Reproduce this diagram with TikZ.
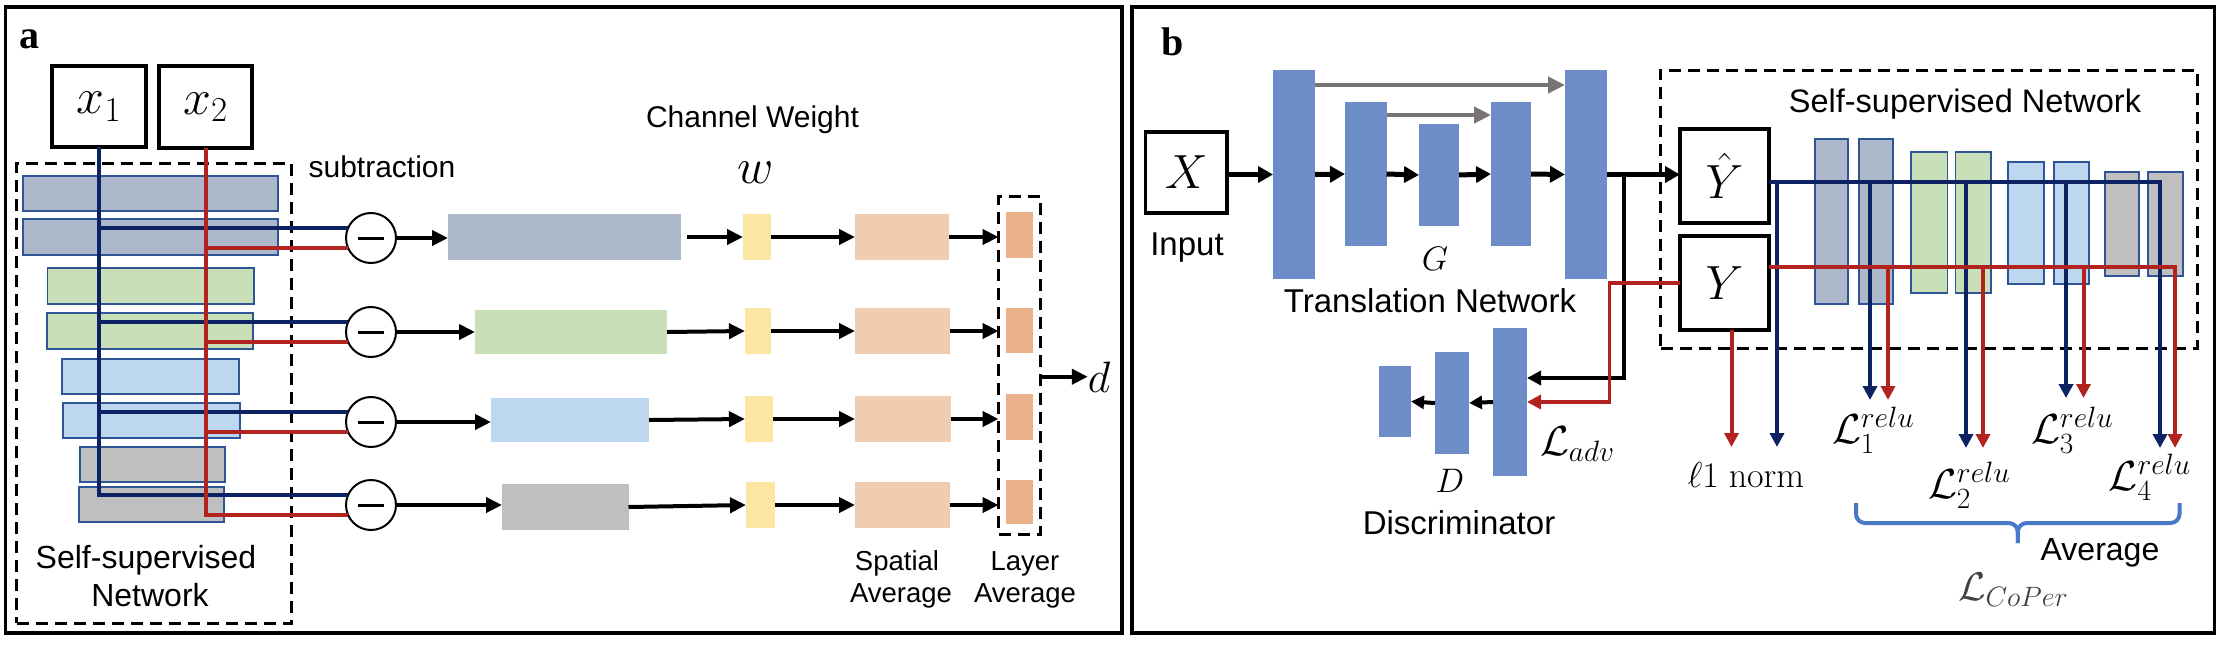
\RequirePackage{fix-cm}
\documentclass[tikz,border=0pt]{standalone}
\usepackage[no-math]{fontspec}
\setmainfont{Liberation Sans}
\newfontfamily\lblfont{Liberation Serif}
\usetikzlibrary{arrows.meta,calc}
\definecolor{cGB}{HTML}{ADB9CA}
\definecolor{cGr}{HTML}{C9DFB8}
\definecolor{cLB}{HTML}{BDD7EE}
\definecolor{cGy}{HTML}{BFBFBF}
\definecolor{cEdge}{HTML}{2F5597}
\definecolor{cYel}{HTML}{FBE6A2}
\definecolor{cPch}{HTML}{F0CCB0}
\definecolor{cOrg}{HTML}{EBB18B}
\definecolor{cUn}{HTML}{6C8DC8}
\definecolor{cNavy}{HTML}{0C2263}
\definecolor{cRed}{HTML}{B2221E}
\definecolor{cGArr}{HTML}{787474}
\definecolor{cBrace}{HTML}{4A78C8}
\newcommand\fs[1]{\fontsize{#1}{#1}\selectfont}
\newcommand\bx[7]{\node[#2, inner sep=0pt, outer sep=0pt, minimum width={#5-#3}, minimum height={#6-#4}] (#1) at ({(#3+#5)/2},{(#4+#6)/2}) {#7};}
\begin{document}
\begin{tikzpicture}[x=1pt,y=-1pt,
  frm/.style={draw, line width=3.5pt},
  dsh/.style={draw, line width=3pt, dash pattern=on 12pt off 7pt},
  lyr/.style={draw=cEdge, line width=1.8pt},
  flat/.style={draw=none},
  ibox/.style={draw, line width=3.5pt},
  subc/.style={circle, draw, fill=white, line width=2pt, minimum size=50pt, inner sep=0pt, outer sep=0pt,
    path picture={\draw[line width=3pt] ([xshift=-13pt]path picture bounding box.center) -- ([xshift=13pt]path picture bounding box.center);}},
  arr/.style={line width=4pt, -{Triangle[length=16pt,width=15pt]}},
  uarr/.style={line width=5pt, -{Triangle[length=15pt,width=16pt]}},
  garr/.style={cGArr, line width=4.5pt, -{Triangle[length=17pt,width=16pt]}},
  darr/.style={line width=4pt, -{Triangle[length=13pt,width=13pt]}},
  brl/.style={line width=3.5pt, -{Triangle[length=14pt,width=14pt]}},
  bl/.style={cNavy, line width=4pt},
  rd/.style={cRed, line width=4pt},
  blA/.style={bl, -{Triangle[length=14pt,width=14pt]}},
  rdA/.style={rd, -{Triangle[length=14pt,width=14pt]}},
  rdl/.style={cRed, line width=3.5pt, -{Triangle[length=14pt,width=14pt]}},
  brc/.style={cBrace, line width=4pt},
  tx/.style={inner sep=0pt, outer sep=0pt, anchor=base, font=\fs{32}},
  mth/.style={inner sep=0pt, outer sep=0pt, anchor=base},
  ub/.style={fill=cUn, draw=none},
]
\useasboundingbox (0,0) rectangle (2222,646);

% ================= Panel a =================
\draw[frm] (5.7,7) rectangle (1122,633);
\node[anchor=base west, inner sep=0pt, font=\lblfont\bfseries\fs{40}] (la) at (19,48) {a};

\bx{xa}{ibox}{52}{66}{146}{147}{\fs{50}$x_1$}
\bx{xb}{ibox}{159}{66}{252}{148}{\fs{50}$x_2$}

\bx{la1}{lyr,fill=cGB}{22.7}{175.7}{278}{210.7}{}
\bx{la2}{lyr,fill=cGB}{22.7}{219}{278}{255}{}
\bx{la3}{lyr,fill=cGr}{47.5}{268}{254}{304}{}
\bx{la4}{lyr,fill=cGr}{47}{313}{253}{349}{}
\bx{la5}{lyr,fill=cLB}{62}{359}{239}{394}{}
\bx{la6}{lyr,fill=cLB}{63}{403}{240}{438}{}
\bx{la7}{lyr,fill=cGy}{80}{447}{225}{482}{}
\bx{la8}{lyr,fill=cGy}{79}{487}{224}{522}{}
\bx{ssa}{dsh}{16.5}{163}{291}{623}{}
\node[tx] (ssa1) at (146,568) {Self-supervised};
\node[tx] (ssa2) at (150,606) {Network};

\node[subc] (c1) at (371,238) {};
\node[subc] (c2) at (371,332) {};
\node[subc] (c3) at (371,422) {};
\node[subc] (c4) at (371,505) {};

\draw[bl] (xa.south) -- (xa.south |- c4.156) -- (c4.156);
\foreach \i in {1,2,3} \draw[bl] (xa.south |- c\i.156) -- (c\i.156);
\draw[rd] (xb.south) -- (xb.south |- c4.204) -- (c4.204);
\foreach \i in {1,2,3} \draw[rd] (xb.south |- c\i.204) -- (c\i.204);

\node[tx, font=\fs{30}] (subt) at (382,177) {subtraction};
\node[tx, font=\fs{30}] (cw) at (752.5,127) {Channel Weight};
\node[mth, font=\fs{50}] (ww) at (756,183) {$w$};

\bx{ba1}{flat,fill=cGB}{448}{214}{681}{260}{}
\bx{ba2}{flat,fill=cGr}{475}{310}{667}{354}{}
\bx{ba3}{flat,fill=cLB}{491}{398}{649}{442}{}
\bx{ba4}{flat,fill=cGy}{502}{484}{628.5}{530}{}
\bx{ya1}{flat,fill=cYel}{743}{214}{771}{260}{}
\bx{ya2}{flat,fill=cYel}{745}{308}{771}{354}{}
\bx{ya3}{flat,fill=cYel}{745}{396}{773}{442}{}
\bx{ya4}{flat,fill=cYel}{746}{482}{775}{528}{}
\bx{pa1}{flat,fill=cPch}{855}{214}{949}{260}{}
\bx{pa2}{flat,fill=cPch}{855}{308}{950}{354}{}
\bx{pa3}{flat,fill=cPch}{855}{396}{951}{442}{}
\bx{pa4}{flat,fill=cPch}{855}{482}{950}{528}{}
\bx{oa1}{flat,fill=cOrg}{1005.6}{212}{1033}{258}{}
\bx{oa2}{flat,fill=cOrg}{1005.6}{308}{1033}{353}{}
\bx{oa3}{flat,fill=cOrg}{1005.6}{394}{1033}{440}{}
\bx{oa4}{flat,fill=cOrg}{1005.6}{480}{1033}{524}{}
\bx{lav}{dsh}{998.5}{196}{1040}{534}{}

\foreach \i in {1,2,3,4} {
  \draw[arr] (c\i.east) -- (c\i.east -| ba\i.west);
  \draw[arr] (ya\i.east) -- (pa\i.west);
  \draw[arr] (pa\i.east) -- (pa\i.east -| lav.west);
}
\draw[arr] ([xshift=6pt]ba1.east) -- (ya1.west);
\draw[arr] (ba2.east) -- (ya2.west);
\draw[arr] (ba3.east) -- (ya3.west);
\draw[arr] (ba4.east) -- (ya4.west);

\node[mth, font=\fs{44}] (dd) at (1099,392) {$d$};
\draw[arr] (lav.east |- dd.west) -- (dd.west);

\node[tx, font=\fs{27.5}] (sp1) at (897,570) {Spatial};
\node[tx, font=\fs{27.5}] (sp2) at (901,602) {Average};
\node[tx, font=\fs{27.5}] (ly1) at (1025,570) {Layer};
\node[tx, font=\fs{27.5}] (ly2) at (1025,602) {Average};

% ================= Panel b =================
\draw[frm] (1132,7) rectangle (2214.5,633);
\node[anchor=base west, inner sep=0pt, font=\lblfont\bfseries\fs{40}] (lb) at (1161,55) {b};

\bx{xX}{ibox}{1145.5}{132}{1227}{213}{\fs{48}$X$}
\node[tx, font=\fs{33}] (inp) at (1187,255) {Input};

\bx{B1}{ub}{1273}{70}{1315}{279}{}
\bx{B2}{ub}{1345}{102}{1386.5}{246}{}
\bx{B3}{ub}{1419}{124}{1459}{226}{}
\bx{B4}{ub}{1491}{102}{1531}{246}{}
\bx{B5}{ub}{1565}{70}{1607}{279}{}
\coordinate (sk1) at (0,85);
\coordinate (sk2) at (0,115);
\draw[garr] (B1.east |- sk1) -- (B5.west |- sk1);
\draw[garr] (B2.east |- sk2) -- (B4.west |- sk2);
\draw[uarr] (B1.west -| xX.east) -- (B1.west);
\draw[uarr] (B1.east) -- (B2.west);
\draw[uarr] (B2.east) -- (B3.west);
\draw[uarr] (B3.east) -- (B4.west);
\draw[uarr] (B4.east) -- (B5.west);
\node[mth, font=\fs{34}] (gG) at (1435,270) {$G$};
\node[tx, font=\fs{33}] (trn) at (1430,312) {Translation Network};

\bx{D1}{ub}{1493}{328}{1527}{476}{}
\bx{D2}{ub}{1435}{352}{1469}{454}{}
\bx{D3}{ub}{1379}{366}{1411}{437}{}
\draw[darr] (D1.west) -- (D2.east);
\draw[darr] (D2.west) -- (D3.east);
\node[mth, font=\fs{34}] (gD) at (1450,492) {$D$};
\node[tx, font=\fs{33}] (dis) at (1459,534) {Discriminator};
\node[mth, anchor=base west, font=\fs{42}] (ladv) at (1540,455) {$\mathcal{L}_{adv}$};

\bx{ssb}{dsh}{1660.6}{70}{2197}{348}{}
\node[tx, font=\fs{32.5}] (sst) at (1965,112) {Self-supervised Network};
\bx{yh}{ibox}{1680}{129}{1769}{223}{\fs{48}$\hat{Y}$}
\bx{yy}{ibox}{1680}{236}{1769}{330}{\fs{48}$Y$}

\bx{s1}{lyr,fill=cGB}{1815}{139}{1848}{304}{}
\bx{s2}{lyr,fill=cGB}{1858.6}{139}{1893}{304}{}
\bx{s3}{lyr,fill=cGr}{1911}{152}{1947.5}{293}{}
\bx{s4}{lyr,fill=cGr}{1955.5}{152}{1991}{293}{}
\bx{s5}{lyr,fill=cLB}{2008}{162}{2044}{284}{}
\bx{s6}{lyr,fill=cLB}{2054}{162}{2089}{284}{}
\bx{s7}{lyr,fill=cGy}{2105}{172}{2139}{276}{}
\bx{s8}{lyr,fill=cGy}{2148}{172}{2183}{276}{}

\draw[uarr] (B5.east) -- (B5.east -| yh.west);
\coordinate (br) at (1624,174.5);
\draw[brl] (br) |- ([yshift=24pt]D1.east);
\coordinate (rc) at (1609.5,283);
\draw[rdl] (yy.west) -- (rc) |- (D1.east);

\coordinate (tnb) at (1777,447);
\coordinate (tnr) at (1731.5,447);
\coordinate (t1b) at (1870,400);
\coordinate (t1r) at (1888,400);
\coordinate (t2b) at (1966,448);
\coordinate (t2r) at (1983,448);
\coordinate (t3b) at (2066,398);
\coordinate (t3r) at (2083.5,398);
\coordinate (t4b) at (2160,448);
\coordinate (t4r) at (2175,448);
\coordinate (hb) at ([yshift=-6pt]yh.east);
\coordinate (hr) at ([yshift=16pt]yy.east);

\draw[blA] (hb) -| (t4b);
\foreach \t in {tnb,t1b,t2b,t3b} \draw[blA] (hb -| \t) -- (\t);
\draw[rdA] (hr) -| (t4r);
\foreach \t in {t1r,t2r,t3r} \draw[rdA] (hr -| \t) -- (\t);
\draw[rdA] (yy.south -| tnr) -- (tnr);

\node[mth, anchor=base west, font=\fs{36}] (l1n) at (1687.5,487) {$\ell 1\ \mathrm{norm}$};
\node[mth, anchor=base west, font=\fs{42}] (L1) at (1832,443) {$\mathcal{L}_1^{relu}$};
\node[mth, anchor=base west, font=\fs{42}] (L2) at (1928,498) {$\mathcal{L}_2^{relu}$};
\node[mth, anchor=base west, font=\fs{42}] (L3) at (2031,443) {$\mathcal{L}_3^{relu}$};
\node[mth, anchor=base west, font=\fs{42}] (L4) at (2108.6,490) {$\mathcal{L}_4^{relu}$};

\coordinate (brL) at (1856,503);
\coordinate (brR) at (2179.5,503);
\coordinate (brH) at (2017.75,523);
\coordinate (brM) at (2017.75,543);
\draw[brc, rounded corners=9pt] (brL) |- (brH) -- (brM);
\draw[brc, rounded corners=9pt] (brR) |- (brH) -- (brM);
\node[tx, font=\fs{32}] (avg) at (2100,560) {Average};
\node[mth, anchor=base west, font=\fs{40}, text=black!75] (lcp) at (1958,600) {$\mathcal{L}_{CoPer}$};
\end{tikzpicture}
\end{document}
